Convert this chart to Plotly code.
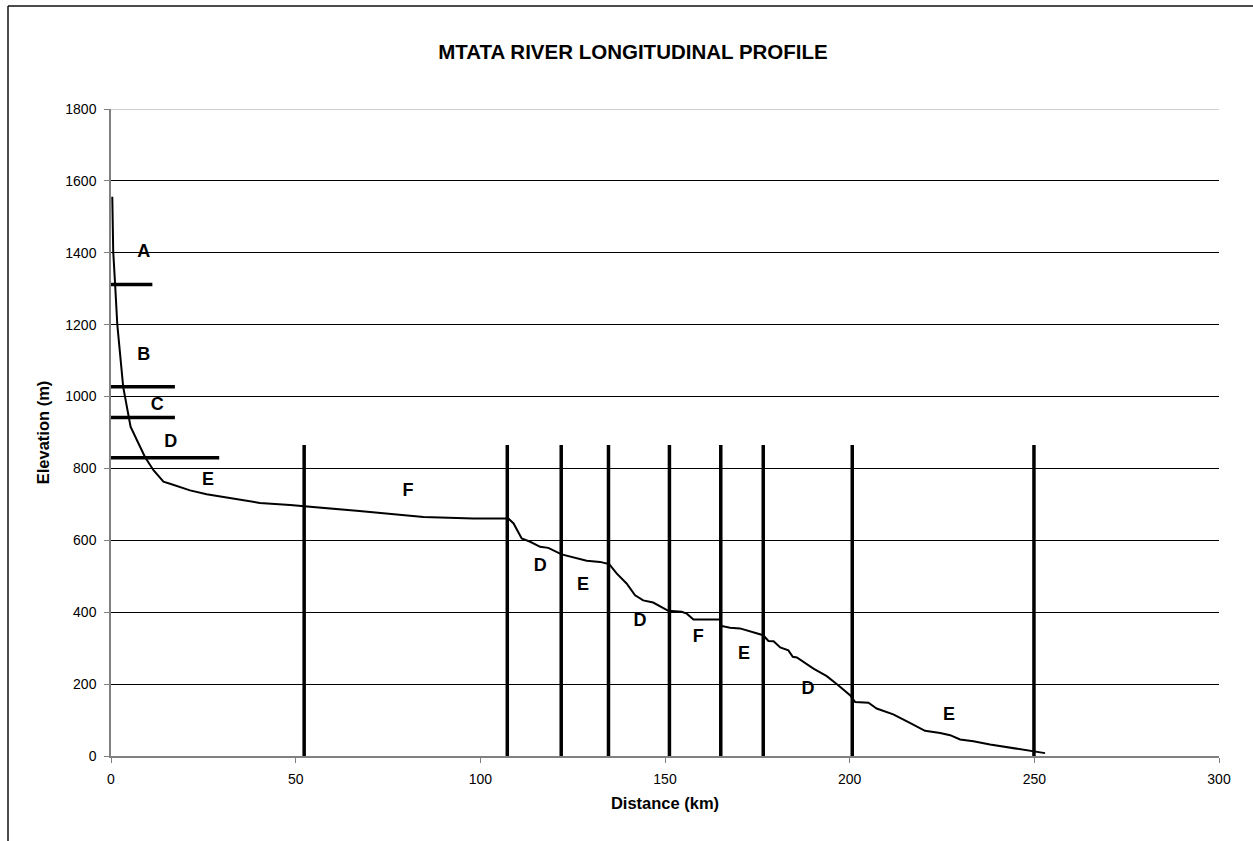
import plotly.graph_objects as go

# River profile (distance km, elevation m)
dist = [0.35, 0.6, 1.1, 1.7, 3.3, 4.7, 5.3, 7.0, 9.2, 11.5, 14.2, 16.4, 21.4, 25.9, 33.1, 40.3,
        48.5, 52.3, 66.5, 84.6, 98.1, 107.6, 109.0, 111.2, 113.5, 116.2, 118.4, 122.0, 125.2,
        128.8, 132.4, 134.9, 136.9, 139.6, 141.9, 144.1, 146.8, 148.7, 150.9, 154.5, 155.9,
        157.7, 164.9, 165.3, 167.6, 170.3, 176.6, 178.0, 179.4, 181.2, 183.4, 184.6, 185.7,
        190.2, 193.8, 196.9, 200.1, 201.5, 205.1, 207.3, 211.8, 216.3, 220.4, 224.5, 227.2,
        229.9, 233.5, 238.0, 242.5, 249.7, 252.9]
elev = [1556, 1403, 1315, 1201, 1027, 942, 916, 879, 832, 795, 763, 756, 739, 728, 716, 704,
        698, 695, 682, 665, 661, 661, 647, 605, 596, 582, 579, 561, 552,
        543, 540, 534, 508, 480, 447, 433, 427, 417, 404, 401, 396,
        380, 380, 362, 357, 355, 336, 320, 319, 302, 294, 276, 274,
        243, 222, 197, 169, 150, 148, 132, 116, 92, 70, 64, 58,
        46, 41, 32, 25, 12, 8]

# Zone boundaries along the river (vertical lines)
boundary_km = [52.3, 107.3, 121.9, 134.7, 151.2, 165.1, 176.6, 200.7, 249.9]
boundary_top = 865

# Upper-course zone boundaries (horizontal lines)
hline_elev = [1312, 1027, 942, 830]
hline_end_km = [11.2, 17.3, 17.3, 29.3]

# Zone labels
zone_text = ["A", "B", "C", "D", "E", "F", "D", "E", "D", "F", "E", "D", "E"]
zone_x = [8.9, 8.9, 12.5, 16.2, 26.3, 80.4, 116.2, 127.8, 143.2, 159.0, 171.4, 188.7, 226.9]
zone_y = [1401, 1115, 976, 873, 767, 736, 528, 475, 375, 330, 283, 186, 113]

x_ticks = [0, 50, 100, 150, 200, 250, 300]
y_ticks = [0, 200, 400, 600, 800, 1000, 1200, 1400, 1600, 1800]

FONT = "Liberation Sans, Arial, sans-serif"
W, H = 1253, 841
L, R, T, B = 111, 34, 109, 85

fig = go.Figure()

vx, vy = [], []
for b in boundary_km:
    vx += [b, b, None]
    vy += [0, boundary_top, None]
fig.add_trace(go.Scatter(x=vx, y=vy, mode="lines", line=dict(color="black", width=3.5),
                         hoverinfo="skip", showlegend=False))

hx, hy = [], []
for e, xe in zip(hline_elev, hline_end_km):
    hx += [0, xe, None]
    hy += [e, e, None]
fig.add_trace(go.Scatter(x=hx, y=hy, mode="lines", line=dict(color="black", width=3.5),
                         hoverinfo="skip", showlegend=False))

fig.add_trace(go.Scatter(x=dist, y=elev, mode="lines", line=dict(color="black", width=2),
                         showlegend=False))

fig.add_trace(go.Scatter(x=zone_x, y=zone_y, mode="text", text=zone_text,
                         textfont=dict(family=FONT, size=18, color="black", weight="bold"),
                         hoverinfo="skip", showlegend=False))

# Outer frame (left and top edges visible), in screen pixels
pw, ph = W - L - R, H - T - B
def px_x(p):
    return (p - L) / pw
def px_y(p):
    return (H - B - p) / ph
fig.add_shape(type="line", xref="paper", yref="paper", x0=px_x(8), x1=px_x(8),
              y0=px_y(860), y1=px_y(6), line=dict(color="#111", width=1.5))
fig.add_shape(type="line", xref="paper", yref="paper", x0=px_x(8), x1=px_x(1270),
              y0=px_y(6), y1=px_y(6), line=dict(color="#111", width=1.5))
# top gridline at 1800 (lighter)
fig.add_shape(type="line", xref="paper", yref="y", x0=0, x1=1, y0=1800, y1=1800,
              line=dict(color="#a0a0a0", width=1))

fig.update_layout(
    width=W, height=H,
    margin=dict(l=L, r=R, t=T, b=B),
    paper_bgcolor="white", plot_bgcolor="white",
    font=dict(family=FONT, color="black"),
    title=dict(text="<b>MTATA RIVER LONGITUDINAL PROFILE</b>", x=633 / W, xanchor="center",
               y=1 - 52 / H, yanchor="middle", font=dict(family=FONT, size=20.5)),
    xaxis=dict(range=[0, 300], tickvals=x_ticks, showgrid=False, zeroline=False,
               showline=True, linecolor="#808080", linewidth=1.5,
               ticks="outside", ticklen=5, tickcolor="#808080",
               ticklabelstandoff=4,
               tickfont=dict(family=FONT, size=14),
               title=dict(text="<b>Distance (km)</b>", font=dict(family=FONT, size=16.5), standoff=12)),
    yaxis=dict(range=[0, 1800], tickvals=y_ticks, showgrid=True, gridcolor="black", gridwidth=1,
               zeroline=False, showline=True, linecolor="#808080", linewidth=1.5,
               ticks="outside", ticklen=5, tickcolor="#808080",
               ticklabelstandoff=5,
               tickfont=dict(family=FONT, size=14),
               title=dict(text="<b>Elevation (m)</b>", font=dict(family=FONT, size=16.5), standoff=12)),
)

fig.write_html("out.html", config={"displayModeBar": False},
               post_script="document.body.style.margin='0';")
